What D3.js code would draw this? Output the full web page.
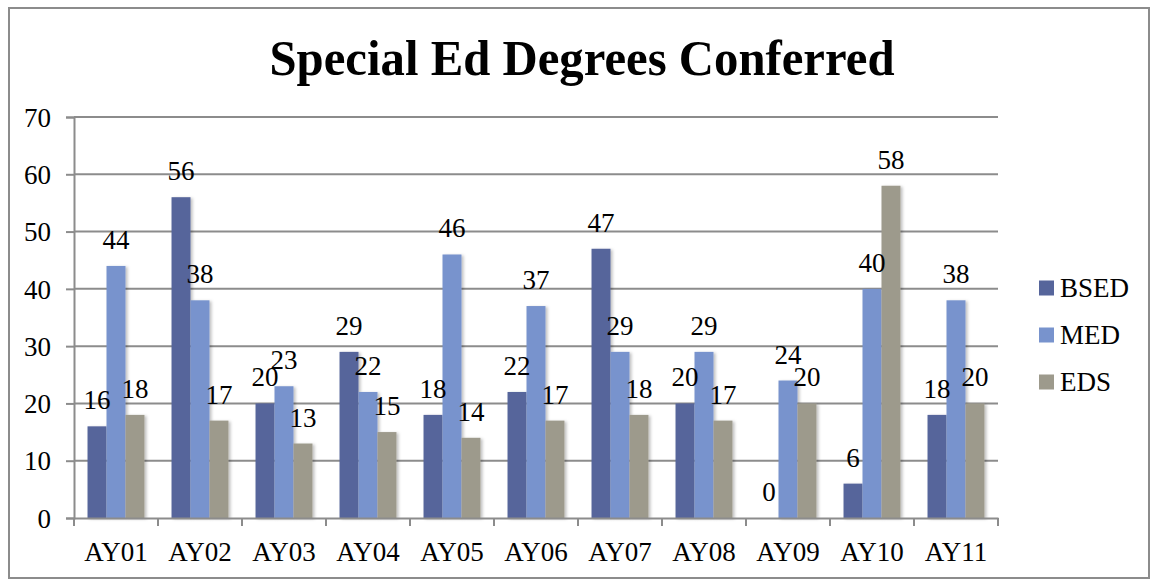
<!DOCTYPE html>
<html><head><meta charset="utf-8">
<script src="https://cdn.jsdelivr.net/npm/d3@7"></script>
<style>html,body{margin:0;padding:0;background:#fff}svg{display:block}</style>
</head><body>
<svg id="c" width="1153" height="582"></svg>
<script>
const categories = ["AY01","AY02","AY03","AY04","AY05","AY06","AY07","AY08","AY09","AY10","AY11"];
const seriesNames = ["BSED","MED","EDS"];
const BSED = [16,56,20,29,18,22,47,20,0,6,18];
const MED  = [44,38,23,22,46,37,29,29,24,40,38];
const EDS  = [18,17,13,15,14,17,18,17,20,58,20];
const yTicks = [0,10,20,30,40,50,60,70];
const colors = ["#56659b","#7893cd","#9d9a8c"];
const seriesValues = [BSED, MED, EDS];

const svg = d3.select("#c");
const font = "Liberation Serif";
const FS = 27;
const L = 74, R = 998, T = 117, B = 518;

// frame
svg.append("rect").attr("x",9).attr("y",8).attr("width",1140).attr("height",570)
  .attr("fill","#fff").attr("stroke","#8c8c8c").attr("stroke-width",2);

const defs = svg.append("defs");
const f = defs.append("filter").attr("id","sh").attr("x","-20%").attr("y","-10%").attr("width","160%").attr("height","130%");
f.append("feDropShadow").attr("dx",2).attr("dy",1).attr("stdDeviation",1.5).attr("flood-color","#000").attr("flood-opacity",0.25);

const x = d3.scaleBand().domain(categories).range([L,R]).paddingInner(0).paddingOuter(0);
const y = d3.scaleLinear().domain([0,70]).range([B,T]);
const barW = x.bandwidth()*0.226;
const groupW = barW*3;

// gridlines
svg.append("g").selectAll("line").data(yTicks.filter(d=>d>0)).join("line")
  .attr("x1",L).attr("x2",R).attr("y1",d=>y(d)).attr("y2",d=>y(d))
  .attr("stroke","#8c8c8c").attr("stroke-width",2);

// y axis
const ya = svg.append("g").attr("transform",`translate(${L},0)`)
  .call(d3.axisLeft(y).tickValues(yTicks).tickSize(8).tickPadding(15));
ya.attr("font-family",font).attr("font-size",FS);
ya.select(".domain").attr("stroke","#8c8c8c").attr("stroke-width",2);
ya.selectAll(".tick line").attr("stroke","#8c8c8c").attr("stroke-width",2);
ya.selectAll("text").attr("fill","#000").attr("dy","0.34em");

// bars
const g = svg.append("g");
seriesValues.forEach((vals,si)=>{
  g.append("g").attr("filter","url(#sh)").selectAll("rect").data(vals).join("rect")
    .attr("x",(d,i)=>x(categories[i]) + (x.bandwidth()-groupW)/2 + si*barW)
    .attr("width",barW)
    .attr("y",d=>y(d)).attr("height",d=>B-y(d))
    .attr("fill",colors[si]);
});

// x axis
const xa = svg.append("g").attr("transform",`translate(0,${B})`)
  .call(d3.axisBottom(x).tickSize(0).tickPadding(24));
xa.attr("font-family",font).attr("font-size",FS);
xa.select(".domain").attr("stroke","#8c8c8c").attr("stroke-width",2);
xa.selectAll("text").attr("fill","#000");
svg.append("g").selectAll("line").data(d3.range(categories.length+1)).join("line")
  .attr("x1",i=>L+i*x.step()).attr("x2",i=>L+i*x.step())
  .attr("y1",B).attr("y2",B+8).attr("stroke","#8c8c8c").attr("stroke-width",2);

// data labels
seriesValues.forEach((vals,si)=>{
  svg.append("g").attr("font-family",font).attr("font-size",FS).selectAll("text").data(vals).join("text")
    .attr("x",(d,i)=>x(categories[i]) + (x.bandwidth()-groupW)/2 + si*barW + barW/2)
    .attr("y",d=>y(d)-17)
    .attr("text-anchor","middle")
    .attr("fill","#000")
    .text(d=>d);
});

// title
svg.append("text").attr("x",582).attr("y",75).attr("text-anchor","middle")
  .attr("font-family",font).attr("font-weight","bold").attr("font-size",50)
  .attr("textLength",625).attr("lengthAdjust","spacingAndGlyphs")
  .text("Special Ed Degrees Conferred");

// legend
const lg = svg.append("g").attr("font-family",font).attr("font-size",FS);
seriesNames.forEach((n,i)=>{
  const cy = 288 + i*47;
  lg.append("rect").attr("x",1039).attr("y",cy-7.5).attr("width",15).attr("height",15).attr("fill",colors[i]);
  lg.append("text").attr("x",1060).attr("y",cy+9).text(n);
});
</script>
</body></html>
